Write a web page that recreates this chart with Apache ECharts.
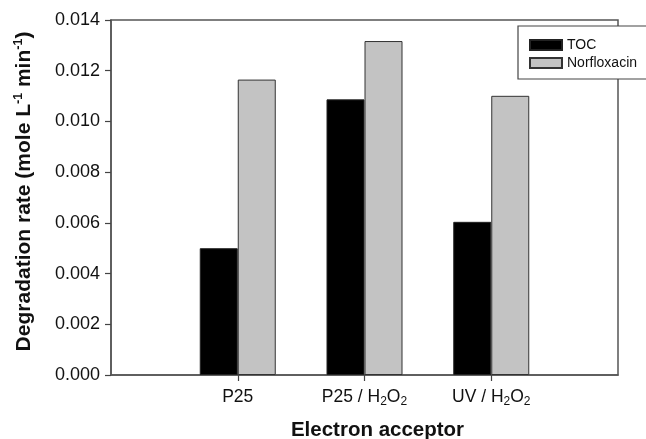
<!DOCTYPE html>
<html>
<head>
<meta charset="utf-8">
<script src="https://cdn.jsdelivr.net/npm/echarts@6/dist/echarts.min.js"></script>
<style>
html,body{margin:0;padding:0;background:#fff;}
#chart{width:646px;height:439px;}
</style>
</head>
<body>
<div id="chart"></div>
<script>
// Data
const categories = ['P25', 'P25 / H2O2', 'UV / H2O2'];
const tocValues = [0.00500, 0.01087, 0.00604];
const norfloxacinValues = [0.01165, 0.01317, 0.01101];
const yTicks = { min: 0, max: 0.014, interval: 0.002 };
const seriesNames = ['TOC', 'Norfloxacin'];

// Axis padded with empty slots so categories sit at 1,2,3 of a 0..4 span
const axisData = [''].concat(categories, ['']);
const pad = arr => [null].concat(arr, [null]);

const font = 'Liberation Sans, Arial, sans-serif';
const labelRich = {
  n: { fontSize: 17.5, fontFamily: font, color: '#111', lineHeight: 22, verticalAlign: 'middle' },
  sub: { fontSize: 12, fontFamily: font, color: '#111', lineHeight: 22, verticalAlign: 'bottom' }
};
function fmtLabel(v) {
  if (!v) return '';
  return v.split(/(H2O2)/).map(part => {
    if (part === 'H2O2') return '{n|H}{sub|2}{n|O}{sub|2}';
    return part ? '{n|' + part + '}' : '';
  }).join('');
}

const chart = echarts.init(document.getElementById('chart'), null, { renderer: 'canvas' });
chart.setOption({
  animation: false,
  backgroundColor: '#fff',
  grid: {
    left: 111, top: 20, right: 28, bottom: 64,
    containLabel: false, outerBoundsMode: 'none',
    show: true, borderColor: '#555', borderWidth: 1.5, backgroundColor: 'transparent'
  },
  legend: {
    orient: 'vertical',
    left: 518, top: 26,
    padding: [12, 40, 9, 11],
    itemWidth: 32, itemHeight: 10, itemGap: 4,
    backgroundColor: '#fff',
    borderColor: '#444', borderWidth: 1.2,
    icon: 'rect',
    textStyle: { fontSize: 14, fontFamily: font, color: '#111' },
    data: seriesNames
  },
  xAxis: {
    type: 'category',
    data: axisData,
    boundaryGap: false,
    axisLine: { lineStyle: { color: '#555', width: 1.5 } },
    axisTick: { show: true, length: 6, interval: (i, v) => v !== '', lineStyle: { color: '#444', width: 1.2 } },
    axisLabel: { interval: 0, margin: 11, formatter: fmtLabel, rich: labelRich },
    splitLine: { show: false },
    name: 'Electron acceptor',
    nameLocation: 'middle',
    nameGap: 45,
    nameTextStyle: { fontSize: 20.5, fontWeight: 'bold', fontFamily: font, color: '#111', verticalAlign: 'top', padding: [0, 0, 0, 26] }
  },
  yAxis: {
    type: 'value',
    min: yTicks.min, max: yTicks.max, interval: yTicks.interval,
    axisLine: { show: true, lineStyle: { color: '#555', width: 1.5 } },
    axisTick: { show: true, length: 6, lineStyle: { color: '#444', width: 1.2 } },
    axisLabel: { fontSize: 18, fontFamily: font, color: '#111', margin: 11, formatter: v => v.toFixed(3) },
    splitLine: { show: false },
    name: 'Degradation rate (mole L{sup|-1} min{sup|-1}{n|)}',
    nameLocation: 'middle',
    nameGap: 74,
    nameTextStyle: {
      fontSize: 21, fontWeight: 'bold', fontFamily: font, color: '#111', lineHeight: 25,
      padding: [0, 0, 0, 12],
      rich: {
        sup: { fontSize: 12.5, fontWeight: 'bold', fontFamily: font, color: '#111', lineHeight: 25, verticalAlign: 'top' },
        n: { fontSize: 21, fontWeight: 'bold', fontFamily: font, color: '#111', lineHeight: 25 }
      }
    }
  },
  series: [
    {
      name: seriesNames[0], type: 'bar', data: pad(tocValues),
      barWidth: 38, barGap: '0%',
      itemStyle: { color: '#000', borderColor: '#222', borderWidth: 1 }
    },
    {
      name: seriesNames[1], type: 'bar', data: pad(norfloxacinValues),
      barWidth: 38, barGap: '0%',
      itemStyle: { color: '#c3c3c3', borderColor: '#333', borderWidth: 1 }
    }
  ]
});
</script>
</body>
</html>
